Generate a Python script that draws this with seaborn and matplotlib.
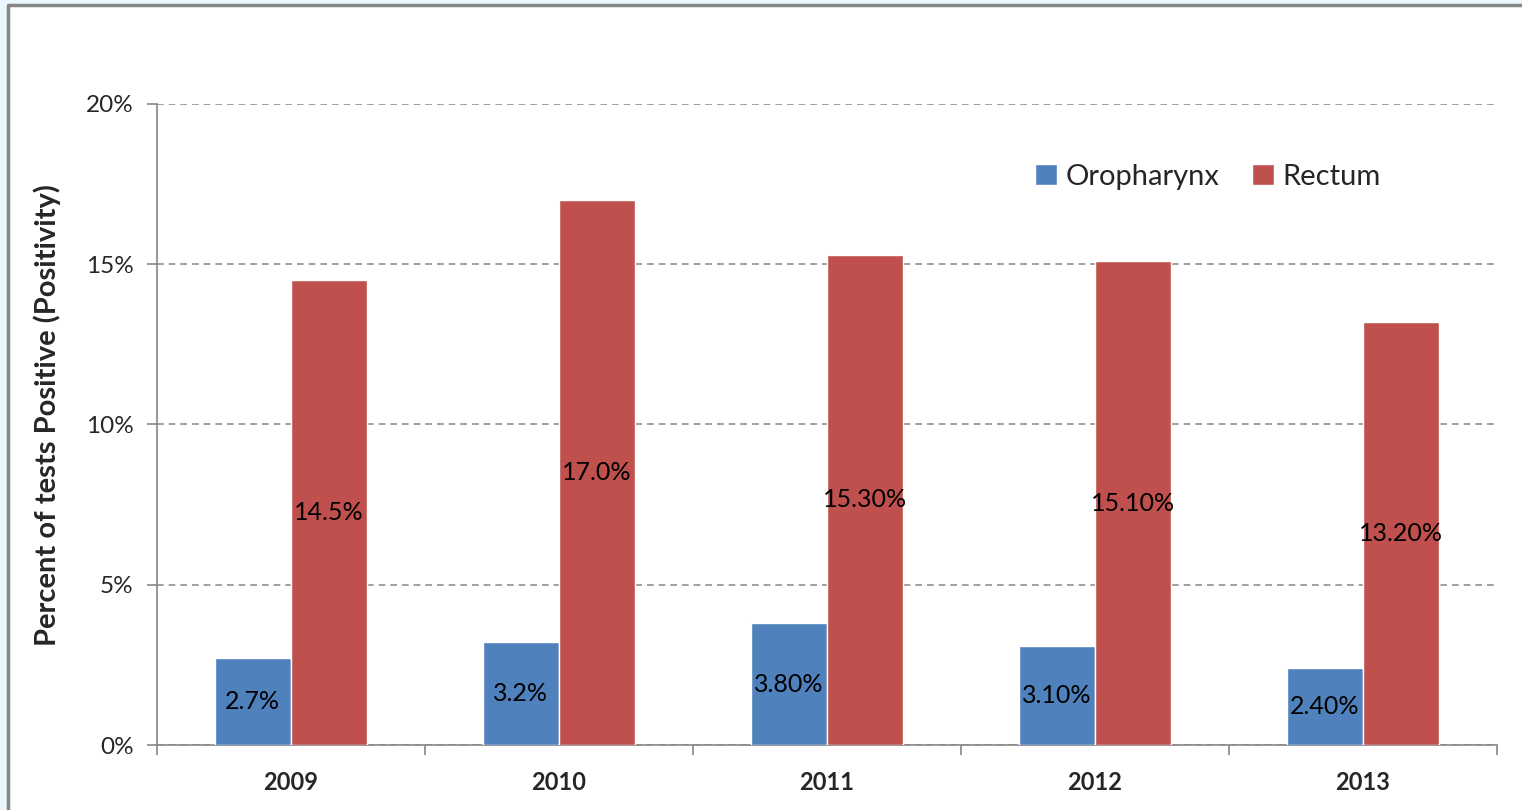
import numpy as np
import pandas as pd
import seaborn as sns
import matplotlib.pyplot as plt
from matplotlib.lines import Line2D

years = ["2009", "2010", "2011", "2012", "2013"]
oropharynx = [2.7, 3.2, 3.8, 3.1, 2.4]
rectum = [14.5, 17.0, 15.3, 15.1, 13.2]
oro_labels = ["2.7%", "3.2%", "3.80%", "3.10%", "2.40%"]
rect_labels = ["14.5%", "17.0%", "15.30%", "15.10%", "13.20%"]
yticks = [0, 5, 10, 15, 20]
ytick_labels = ["0%", "5%", "10%", "15%", "20%"]

df = pd.DataFrame({
    "Year": years * 2,
    "Site": ["Oropharynx"] * 5 + ["Rectum"] * 5,
    "Value": oropharynx + rectum,
})

sns.set_style("white")
plt.rcParams["font.family"] = ["Lato", "DejaVu Sans"]

fig = plt.figure(figsize=(15.22, 8.10), dpi=100)
fig.patch.set_facecolor("#EAF7FC")
# white chart area with grey frame on the left and top
x0, y0 = 7.5 / 1522, 1 - 5 / 810
fig.patches.append(plt.Rectangle((x0, 0), 1 - x0, y0, transform=fig.transFigure,
                                 facecolor="white", edgecolor="none", zorder=-2))
fig.add_artist(Line2D([x0, x0, 1.01], [0, y0, y0], transform=fig.transFigure,
                      color="#868686", linewidth=2.5, zorder=-1))

ax = fig.add_axes([157 / 1522, 65 / 810, 1340 / 1522, 641 / 810])
ax.set_facecolor("none")

sns.barplot(data=df, x="Year", y="Value", hue="Site", width=0.57,
            palette=["#4F81BD", "#C0504D"], saturation=1, ax=ax,
            errorbar=None, zorder=3)

for cont, labs in zip(ax.containers, [oro_labels, rect_labels]):
    ax.bar_label(cont, labels=labs, label_type="center", fontsize=18,
                 color="black")

ax.set_xlim(-0.5, 4.5)
ax.set_ylim(0, 20)
ax.set_yticks(yticks)
ax.set_yticklabels(ytick_labels, fontsize=17.5)
ax.yaxis.grid(True, linestyle=(0, (4, 3)), color="#909090", linewidth=1.2)
ax.set_axisbelow(True)

ax.set_xticks(range(5))
ax.set_xticklabels(years, fontsize=17, fontweight="bold")
ax.set_xticks(np.arange(-0.5, 5, 1), minor=True)
ax.tick_params(axis="x", which="major", length=0, pad=19)
ax.tick_params(axis="x", which="minor", length=7, color="#868686", width=1.2,
               direction="out", bottom=True)
ax.tick_params(axis="y", length=7, color="#868686", width=1.2,
               direction="out", left=True, pad=10)

for side in ["top", "right"]:
    ax.spines[side].set_visible(False)
for side in ["left", "bottom"]:
    ax.spines[side].set_color("#868686")
    ax.spines[side].set_linewidth(1.2)

ax.set_xlabel("")
ax.set_ylabel("Percent of tests Positive (Positivity)", fontsize=21,
              fontweight="bold")
ax.yaxis.set_label_coords(-0.072, 0.515)

leg = ax.legend(loc="upper left", bbox_to_anchor=(0.636, 0.948), ncol=2,
                frameon=False, fontsize=21, handlelength=0.75,
                handleheight=0.75, handletextpad=0.3, columnspacing=1.1)

fig.savefig("out.png", dpi=100, facecolor=fig.get_facecolor())
